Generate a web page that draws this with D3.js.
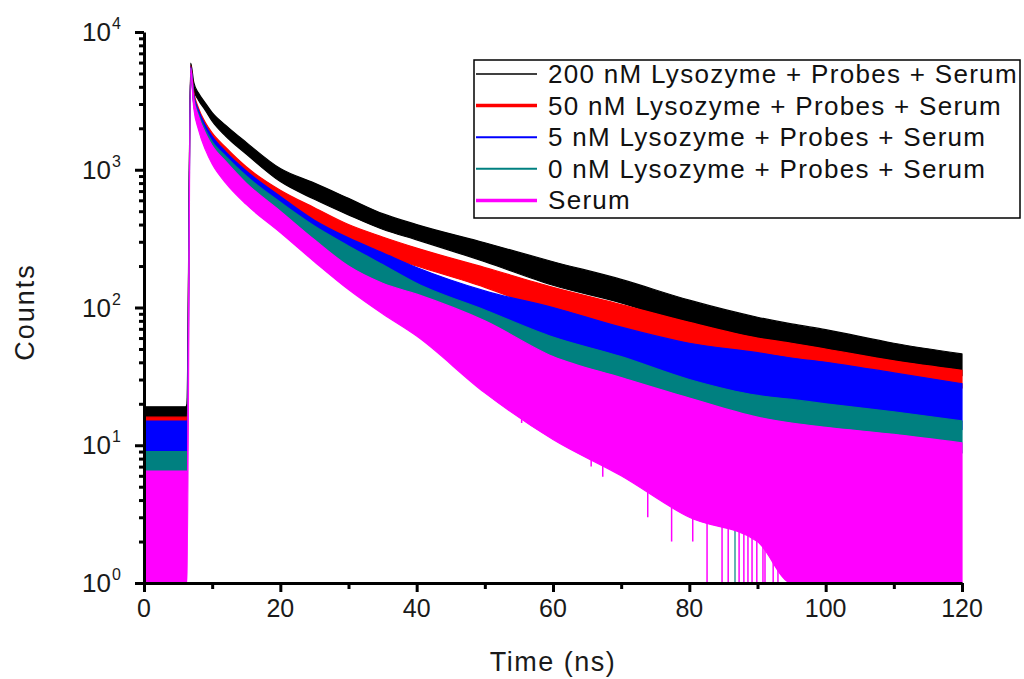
<!DOCTYPE html>
<html>
<head>
<meta charset="utf-8">
<script src="https://cdn.jsdelivr.net/npm/d3@7"></script>
<style>
  body { margin: 0; background: #fff; }
  svg { display: block; font-family: "Liberation Sans", Arial, sans-serif; }
</style>
</head>
<body>
<div id="chart"></div>
<script>
const times = [0, 6.1, 6.3, 6.85, 7.3, 8, 9, 10, 12, 15, 20, 25, 30, 35, 40, 50, 60, 70, 80, 90, 95, 100, 110, 120];

// lower / upper edge of each noisy decay trace (counts)
const lyso200Lo = [13, 13, 14, 5500, 3800, 3200, 2700, 2250, 1750, 1300, 820, 610, 470, 370, 310, 215, 145, 108, 75, 58, 52, 47, 39, 32];
const lyso200Hi = [19, 19, 20, 5950, 4300, 3600, 3050, 2600, 2100, 1580, 1020, 800, 620, 480, 400, 295, 215, 160, 113, 85, 76, 69, 55, 46];
const lyso50Lo  = [11, 11, 11, 5300, 3100, 2300, 1750, 1450, 1150, 850, 580, 400, 300, 240, 200, 140, 92, 68, 50, 40, 36, 33, 29, 26];
const lyso50Hi  = [16, 16, 16, 5700, 3700, 2800, 2200, 1850, 1450, 1050, 710, 530, 400, 325, 270, 195, 140, 105, 78, 60, 55, 50, 41, 35];
const lyso5Lo   = [7, 7, 7, 5200, 3000, 2200, 1650, 1350, 1050, 780, 520, 340, 240, 180, 135, 82, 52, 36, 27, 21, 19, 17, 15, 13];
const lyso5Hi   = [15, 15, 15, 5600, 3500, 2700, 2100, 1750, 1350, 980, 640, 430, 320, 250, 195, 132, 100, 72, 55, 47, 43, 40, 33.5, 28];
const lyso0Lo   = [4.5, 4.5, 4.5, 5200, 2950, 2100, 1550, 1250, 950, 700, 460, 290, 200, 140, 100, 62, 37, 25, 17, 12, 11, 9.7, 9.2, 8.8];
const lyso0Hi   = [9, 9, 9, 5500, 3400, 2550, 1950, 1600, 1250, 900, 580, 390, 280, 205, 150, 96, 61, 44, 30, 23, 21.5, 20, 17.5, 15];
const serumLo   = [1, 1, 1, 5000, 2800, 1950, 1400, 1100, 800, 560, 350, 215, 135, 90, 62, 24, 11, 6, 3, 2, 1, 1, 1, 1];
const serumHi   = [6.5, 6.5, 6.5, 5500, 3300, 2450, 1850, 1500, 1150, 800, 500, 310, 200, 150, 125, 80, 44, 31, 22, 16, 14.5, 13.5, 12, 10.4];

// single downward spikes of the Serum trace
const spikeTimes = [53.7, 55.4, 59.6, 63.2, 65.6, 67.3, 73.9, 77.4, 80.5, 82.6, 84.8, 85.7, 87.3, 88.0, 88.6, 89.2, 89.9, 90.8, 91.1, 92.3, 93.0];
const spikeTops  = [26, 22, 16, 13, 10, 9, 5, 4, 3.5, 3, 3, 3, 2.8, 2.8, 2.8, 2.6, 2.5, 2.5, 2.5, 2.2, 2.2];
const spikeLows  = [18, 14.5, 11.9, 9, 7, 5.9, 3, 2, 2, 1, 1, 1, 1, 1, 1, 1, 1, 1, 1, 1, 1];
const tealSpikeTime = [86.7];

const seriesNames = ["200 nM Lysozyme + Probes + Serum", "50 nM Lysozyme + Probes + Serum",
  "5 nM Lysozyme + Probes + Serum", "0 nM Lysozyme + Probes + Serum", "Serum"];
const seriesColors = ["#000000", "#ff0000", "#0000ff", "#008080", "#ff00ff"];
const legendWidths = [1.5, 3.5, 2, 2, 3.5];

const xTicks = [0, 20, 40, 60, 80, 100, 120];
const xMinor = [10, 30, 50, 70, 90, 110];
const yTicks = [1, 10, 100, 1000, 10000];

const W = 1024, H = 679;
const svg = d3.select("#chart").append("svg").attr("width", W).attr("height", H);

const x = d3.scaleLinear().domain([0, 120]).range([144, 962]);
const y = d3.scaleLog().domain([1, 10000]).range([583, 32]).clamp(true);

const bands = [
  [lyso200Lo, lyso200Hi], [lyso50Lo, lyso50Hi], [lyso5Lo, lyso5Hi], [lyso0Lo, lyso0Hi], [serumLo, serumHi]
];

const area = d3.area()
  .x(d => x(d.t))
  .y0(d => y(d.lo))
  .y1(d => y(d.hi))
  .curve(d3.curveMonotoneX);

const plot = svg.append("g");
bands.forEach((b, i) => {
  const data = times.map((t, k) => ({ t: t, lo: b[0][k], hi: b[1][k] }));
  plot.append("path")
    .datum(data)
    .attr("fill", seriesColors[i])
    .attr("stroke", seriesColors[i])
    .attr("stroke-width", 1.2)
    .attr("stroke-linejoin", "round")
    .attr("d", area);
  if (i === 3) {
    plot.selectAll(".tealspike").data(tealSpikeTime).enter().append("line")
      .attr("x1", d => x(d)).attr("x2", d => x(d))
      .attr("y1", y(12)).attr("y2", y(1))
      .attr("stroke", seriesColors[3]).attr("stroke-width", 1.2);
  }
});

// serum spikes
plot.selectAll(".spike").data(spikeTimes).enter().append("line")
  .attr("x1", d => x(d)).attr("x2", d => x(d))
  .attr("y1", (d, i) => y(spikeTops[i]))
  .attr("y2", (d, i) => y(spikeLows[i]))
  .attr("stroke", seriesColors[4]).attr("stroke-width", 1.5);

// axes
const axisFont = 25;
svg.append("g").attr("transform", "translate(144,0)")
  .call(d3.axisLeft(y).tickValues(yTicks).tickSize(9).tickSizeOuter(0).tickFormat(""));
const minorY = [];
yTicks.slice(0, 4).forEach(d => { for (let m = 2; m <= 9; m++) minorY.push(d * m); });
svg.append("g").attr("transform", "translate(144,0)")
  .call(d3.axisLeft(y).tickValues(minorY).tickSize(5).tickSizeOuter(0).tickFormat(""))
  .select(".domain").remove();

svg.append("g").attr("transform", "translate(0,583)")
  .call(d3.axisBottom(x).tickValues(xTicks).tickSize(9).tickSizeOuter(0).tickFormat(""));
svg.append("g").attr("transform", "translate(0,583)")
  .call(d3.axisBottom(x).tickValues(xMinor).tickSize(6).tickSizeOuter(0).tickFormat(""))
  .select(".domain").remove();

svg.selectAll(".domain").attr("stroke", "#000").attr("stroke-width", 3);
svg.selectAll(".tick line").attr("stroke", "#000").attr("stroke-width", 3);

// y tick labels 10^n
yTicks.forEach(d => {
  const p = Math.round(Math.log10(d));
  svg.append("text").attr("x", 111).attr("y", y(d) + 9)
    .attr("text-anchor", "end").attr("font-size", 26).attr("fill", "#1a1a1a")
    .text("10");
  svg.append("text").attr("x", 112).attr("y", y(d) - 3)
    .attr("font-size", 16).attr("fill", "#1a1a1a")
    .text(p);
});

// x tick labels
xTicks.forEach(d => {
  svg.append("text").attr("x", x(d)).attr("y", 617)
    .attr("text-anchor", "middle").attr("font-size", axisFont).attr("fill", "#1a1a1a")
    .text(d);
});

// axis titles
svg.append("text").attr("x", 553).attr("y", 671)
  .attr("text-anchor", "middle").attr("font-size", 27).attr("letter-spacing", 1.5).attr("fill", "#1a1a1a")
  .text("Time (ns)");
svg.append("text").attr("transform", "translate(34,312) rotate(-90)")
  .attr("text-anchor", "middle").attr("font-size", 27).attr("letter-spacing", 2).attr("fill", "#1a1a1a")
  .text("Counts");

// legend
const legend = svg.append("g");
legend.append("rect").attr("x", 474).attr("y", 60).attr("width", 546).attr("height", 158)
  .attr("fill", "#fff").attr("stroke", "#000").attr("stroke-width", 1.5);
seriesNames.forEach((name, i) => {
  const ly = 74 + i * 31.6;
  legend.append("line").attr("x1", 476).attr("x2", 537).attr("y1", ly).attr("y2", ly)
    .attr("stroke", seriesColors[i]).attr("stroke-width", legendWidths[i]);
  legend.append("text").attr("x", 548).attr("y", ly + 9)
    .attr("font-size", 26).attr("letter-spacing", 1.3).attr("fill", "#111")
    .text(name);
});
</script>
</body>
</html>
